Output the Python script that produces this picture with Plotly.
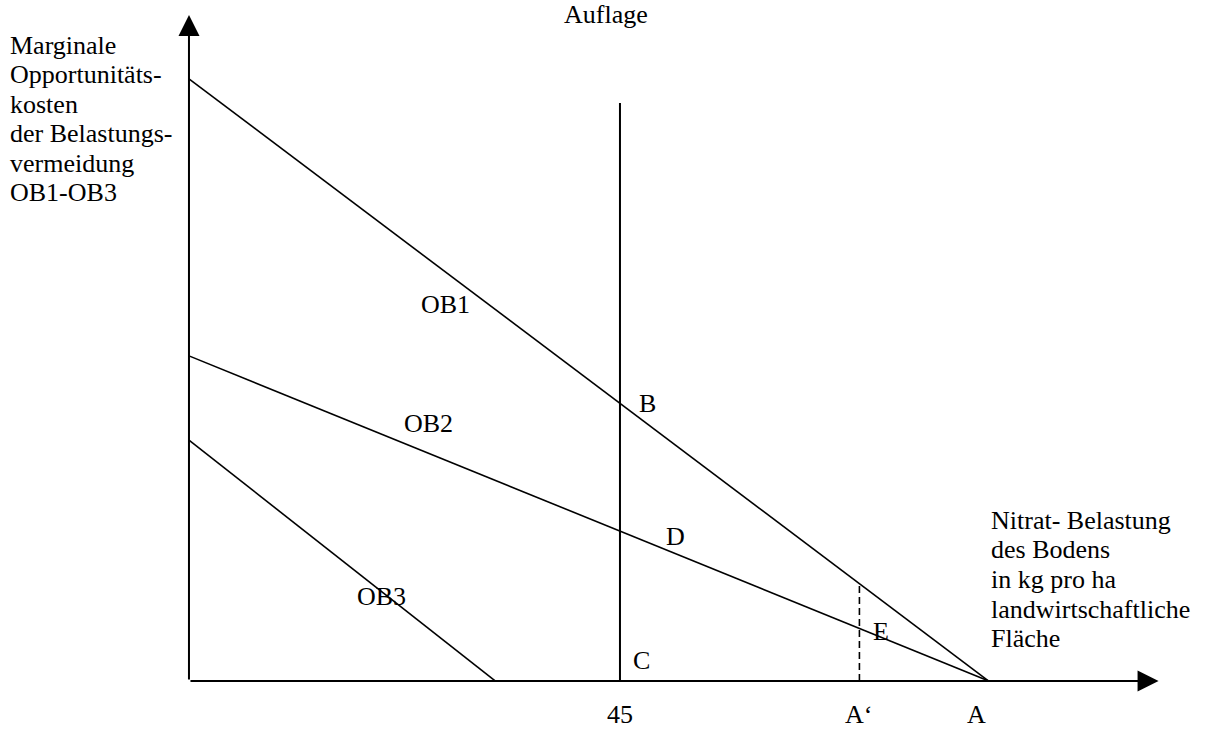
import plotly.graph_objects as go

# Horizontal: nitrate load of the soil (kg per ha); vertical: marginal opportunity cost
auflage_x = 45            # regulatory limit ("Auflage")
a_prime_x = 70            # A'
a_x = 83.5                # A, where OB1 and OB2 hit zero
ob3_end_x = 32

ob1_x = [0, a_x]
ob1_y = [100, 0]
ob2_x = [0, a_x]
ob2_y = [54, 0]
ob3_x = [0, ob3_end_x]
ob3_y = [40, 0]

auflage_top = 96
x_axis_end = 101.8
y_axis_end = 111.5

x_tick_labels = ["45", "A‘", "A"]
x_tick_values = [auflage_x, a_prime_x, a_x]

y_title_lines = ["Marginale", "Opportunitäts-", "kosten", "der Belastungs-",
                 "vermeidung", "OB1-OB3"]
x_title_lines = ["Nitrat- Belastung", "des Bodens", "in kg pro ha",
                 "landwirtschaftliche", "Fläche"]

W, H = 1207, 731
X0, X1 = -19.73, 106.29
Y0, Y1 = -8.3, 113.1
FONT = dict(family="Liberation Serif, Times New Roman, serif", size=26, color="black")


def on_line(xs, ys, x):
    """Value of a straight curve given by two end points at position x."""
    t = (x - xs[0]) / (xs[1] - xs[0])
    return ys[0] + t * (ys[1] - ys[0])


def px_x(px):
    return X0 + px / W * (X1 - X0)


def px_y(py):
    return Y1 - py / H * (Y1 - Y0)


fig = go.Figure()

line_style = dict(color="black", width=1.6)
for xs, ys in [(ob1_x, ob1_y), (ob2_x, ob2_y), (ob3_x, ob3_y)]:
    fig.add_trace(go.Scatter(x=xs, y=ys, mode="lines", line=line_style,
                             hoverinfo="skip", showlegend=False))

# regulatory limit
fig.add_trace(go.Scatter(x=[auflage_x, auflage_x], y=[0, auflage_top], mode="lines",
                         line=dict(color="black", width=2),
                         hoverinfo="skip", showlegend=False))

# dashed drop line at A'
fig.add_trace(go.Scatter(x=[a_prime_x, a_prime_x], y=[0, on_line(ob1_x, ob1_y, a_prime_x)],
                         mode="lines", line=dict(color="black", width=1.6, dash="7px,4px"),
                         hoverinfo="skip", showlegend=False))

annotations = []

# axes with arrow heads
arrow = dict(showarrow=True, arrowhead=2, arrowsize=2.1, arrowwidth=2,
             arrowcolor="black", text="", axref="x", ayref="y", xref="x", yref="y")
annotations.append(dict(x=x_axis_end - 0.57, y=0, ax=0, ay=0, **arrow))
annotations.append(dict(x=0, y=y_axis_end - 0.9, ax=0, ay=0, **arrow))


def label(text, x, y, xanchor="center", yanchor="middle"):
    annotations.append(dict(text=text, x=x, y=y, xref="x", yref="y", showarrow=False,
                            xanchor=xanchor, yanchor=yanchor, font=FONT, borderpad=0))


# axis titles, one annotation per line
for i, t in enumerate(y_title_lines):
    label(t, px_x(9), px_y(45 + 29.5 * i), xanchor="left")
for i, t in enumerate(x_title_lines):
    label(t, px_x(990), px_y(520 + 29.7 * i), xanchor="left")

# tick labels under the horizontal axis
for v, t, dx in zip(x_tick_values, x_tick_labels, [0, -0.1, -1.3]):
    label(t, v + dx, px_y(714))

label("Auflage", auflage_x - 1.5, px_y(14))
label("OB1", px_x(445), px_y(304))
label("OB2", px_x(428), px_y(423))
label("OB3", px_x(381), px_y(596))
label("B", auflage_x + 2.9, on_line(ob1_x, ob1_y, auflage_x))
label("C", auflage_x + 2.2, px_y(660))
label("D", auflage_x + 5.8, on_line(ob2_x, ob2_y, auflage_x + 5.8) + 2.8)
label("E", a_prime_x + 2.3, on_line(ob2_x, ob2_y, a_prime_x + 2.3) + 1.0)

fig.update_layout(
    width=W, height=H,
    margin=dict(l=0, r=0, t=0, b=0),
    paper_bgcolor="white", plot_bgcolor="white",
    xaxis=dict(range=[X0, X1], visible=False, fixedrange=True),
    yaxis=dict(range=[Y0, Y1], visible=False, fixedrange=True),
    annotations=annotations,
    showlegend=False,
)

fig.write_html("out.html", config={"displayModeBar": False})
